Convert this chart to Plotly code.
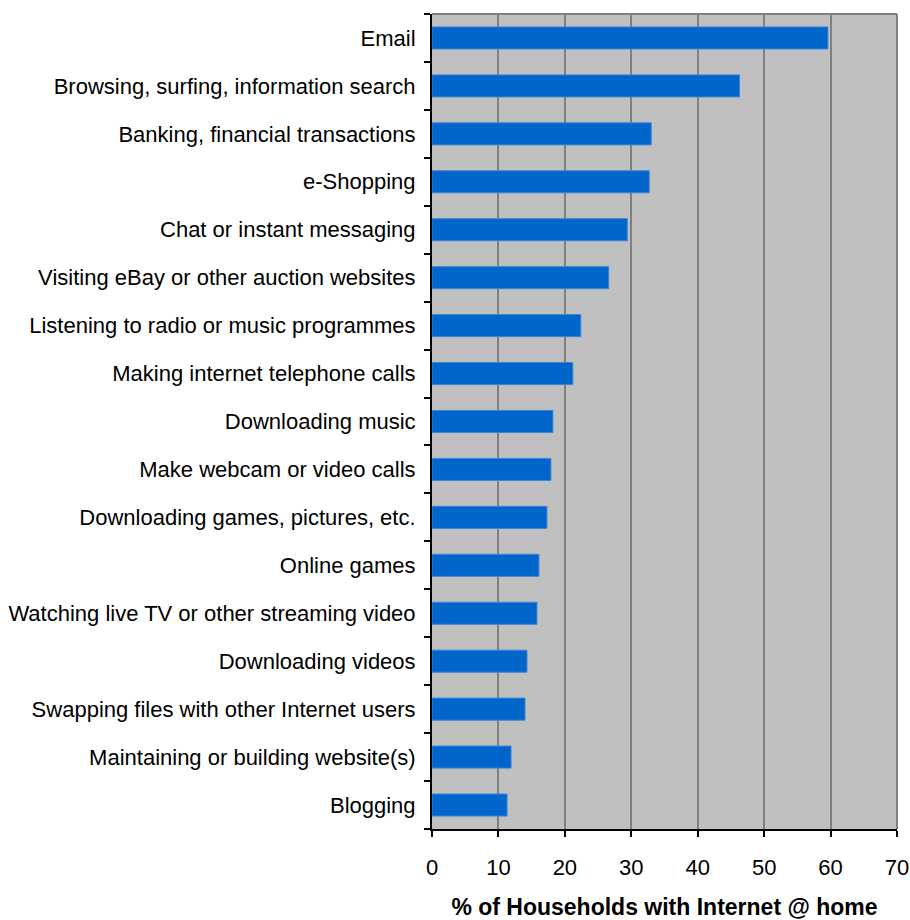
import plotly.graph_objects as go

# Internet activities of households with home access (share, %)
activities = [
    "Email",
    "Browsing, surfing, information search",
    "Banking, financial transactions",
    "e-Shopping",
    "Chat or instant messaging",
    "Visiting eBay or other auction websites",
    "Listening to radio or music programmes",
    "Making internet telephone calls",
    "Downloading music",
    "Make webcam or video calls",
    "Downloading games, pictures, etc.",
    "Online games",
    "Watching live TV or other streaming video",
    "Downloading videos",
    "Swapping files with other Internet users",
    "Maintaining or building website(s)",
    "Blogging",
]
share_pct = [59.6, 46.3, 33.0, 32.7, 29.4, 26.6, 22.4, 21.2, 18.2, 17.9,
             17.3, 16.1, 15.8, 14.3, 14.0, 11.9, 11.3]
x_ticks = [0, 10, 20, 30, 40, 50, 60, 70]

font_family = "Liberation Sans, Arial, sans-serif"

fig = go.Figure(
    go.Bar(
        x=share_pct,
        y=activities,
        orientation="h",
        marker=dict(color="#0066CC", line=dict(color="#3d85d6", width=1)),
        hoverinfo="x+y",
    )
)

fig.update_layout(
    width=910,
    height=920,
    margin=dict(l=432, r=13, t=14, b=91, autoexpand=False),
    paper_bgcolor="white",
    plot_bgcolor="#C0C0C0",
    bargap=0.54,
    showlegend=False,
    font=dict(family=font_family, size=22, color="black"),
    xaxis=dict(
        range=[0, 70],
        tickvals=x_ticks,
        ticks="outside",
        ticklen=6,
        tickwidth=2,
        tickcolor="black",
        showline=True,
        linecolor="black",
        linewidth=2,
        showgrid=True,
        gridcolor="#808080",
        gridwidth=2,
        zeroline=False,
        automargin=False,
        tickfont=dict(size=22),
        ticklabelstandoff=12,
        title=dict(
            text="<b>% of Households with Internet @ home</b>",
            font=dict(size=23),
            standoff=20,
        ),
    ),
    yaxis=dict(
        categoryorder="array",
        categoryarray=activities[::-1],
        ticks="outside",
        tickson="boundaries",
        ticklen=6,
        tickwidth=2,
        tickcolor="black",
        showline=True,
        linecolor="black",
        linewidth=2,
        showgrid=False,
        zeroline=False,
        automargin=False,
        tickfont=dict(size=22),
        ticklabelstandoff=10,
    ),
    shapes=[
        dict(type="line", xref="paper", yref="paper", x0=0, x1=1, y0=1, y1=1,
             line=dict(color="#808080", width=2), layer="below"),
        dict(type="line", xref="paper", yref="paper", x0=1, x1=1, y0=0, y1=1,
             line=dict(color="#808080", width=2), layer="below"),
    ],
)

fig.write_html("out.html")
